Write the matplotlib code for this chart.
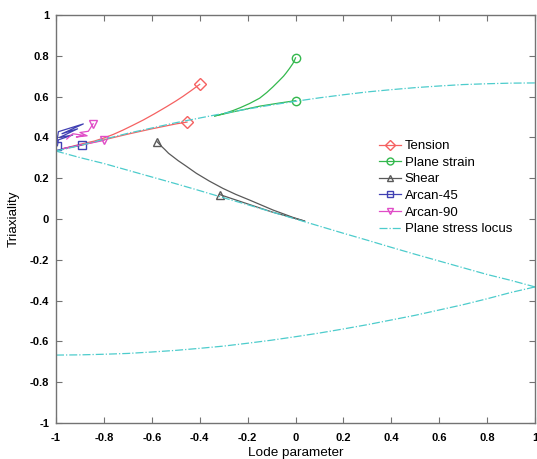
import numpy as np
import matplotlib
matplotlib.use('Agg')
import matplotlib.pyplot as plt

plt.rcParams['font.family'] = ['Liberation Sans', 'DejaVu Sans']

# plane stress locus, three branches
locus_x = [-1, -0.9, -0.8, -0.7, -0.6, -0.5, -0.4, -0.3, -0.2, -0.1, 0,
           0.1, 0.2, 0.3, 0.4, 0.5, 0.6, 0.7, 0.8, 0.9, 1]
locus_upper = [0.333, 0.360, 0.391, 0.420, 0.446, 0.472, 0.495, 0.518, 0.539, 0.559, 0.577,
               0.594, 0.609, 0.623, 0.634, 0.644, 0.652, 0.659, 0.663, 0.666, 0.667]
locus_mid = [0.333, 0.301, 0.272, 0.239, 0.206, 0.173, 0.139, 0.104, 0.070, 0.035, 0.0,
             -0.035, -0.070, -0.104, -0.139, -0.173, -0.206, -0.239, -0.272, -0.301, -0.333]
locus_lower = [-0.667, -0.666, -0.663, -0.659, -0.652, -0.644, -0.634, -0.623, -0.609, -0.594, -0.577,
               -0.559, -0.539, -0.518, -0.495, -0.472, -0.446, -0.420, -0.391, -0.360, -0.333]

# Tension
ten1_x = [-0.97, -0.93, -0.886, -0.84, -0.80, -0.76, -0.72, -0.68, -0.636, -0.59, -0.539, -0.50, -0.47, -0.435, -0.40]
ten1_y = [0.345, 0.357, 0.370, 0.382, 0.397, 0.415, 0.436, 0.459, 0.485, 0.515, 0.550, 0.578, 0.601, 0.630, 0.660]
ten2_x = [-0.97, -0.9, -0.8, -0.7, -0.6, -0.5, -0.453]
ten2_y = [0.345, 0.360, 0.388, 0.416, 0.442, 0.466, 0.475]

# Plane strain
ps1_x = [-0.3375, -0.30, -0.26, -0.23, -0.192, -0.15, -0.12, -0.094, -0.07, -0.05, -0.039, -0.025, -0.011, -0.004, 0.0]
ps1_y = [0.505, 0.516, 0.532, 0.546, 0.566, 0.592, 0.620, 0.648, 0.676, 0.700, 0.716, 0.738, 0.762, 0.778, 0.790]
ps2_x = [-0.3375, -0.25, -0.15, -0.07, 0.0]
ps2_y = [0.505, 0.528, 0.553, 0.568, 0.580]

# Shear
sh1_x = [0.0375, -0.011, -0.05, -0.094, -0.14, -0.192, -0.25, -0.303, -0.36, -0.414, -0.46, -0.49, -0.511, -0.53, -0.545, -0.562, -0.578]
sh1_y = [-0.010, 0.008, 0.025, 0.044, 0.067, 0.093, 0.121, 0.150, 0.186, 0.224, 0.262, 0.286, 0.305, 0.322, 0.340, 0.359, 0.379]
sh2_x = [0.0375, -0.1, -0.2, -0.317]
sh2_y = [-0.010, 0.035, 0.074, 0.120]

# Arcan-45
a45_1_x = [-1.0, -0.95, -0.893]
a45_1_y = [0.335, 0.350, 0.363]
a45_2_x = [-0.997, -0.99, -0.886, -0.975, -0.91, -0.985, -0.93, -0.99, -0.994]
a45_2_y = [0.375, 0.428, 0.466, 0.418, 0.442, 0.400, 0.412, 0.388, 0.359]

# Arcan-90
a90_1_x = [-0.97, -0.9, -0.8]
a90_1_y = [0.345, 0.362, 0.385]
a90_2_x = [-0.955, -0.93, -0.885, -0.915, -0.87, -0.90, -0.865, -0.845]
a90_2_y = [0.392, 0.418, 0.410, 0.402, 0.408, 0.424, 0.430, 0.467]

c_ten = (0.96, 0.38, 0.38)
c_ps = (0.2, 0.72, 0.3)
c_sh = (0.35, 0.35, 0.35)
c_a45 = (0.25, 0.25, 0.7)
c_a90 = (0.88, 0.3, 0.78)
c_loc = (0.3, 0.8, 0.8)

fig = plt.figure(figsize=(5.37, 4.59), dpi=100)
ax = fig.add_axes([56/537, 36/459, 479/537, 408/459])

lw = 0.9
ms = 6

def series(xs, ys, color, marker):
    ax.plot(xs, ys, color=color, lw=lw)
    ax.plot(xs[-1], ys[-1], marker=marker, color=color, ms=ms, mfc='none', lw=0)

series(ten1_x, ten1_y, c_ten, 'D')
series(ten2_x, ten2_y, c_ten, 'D')
series(ps1_x, ps1_y, c_ps, 'o')
series(ps2_x, ps2_y, c_ps, 'o')
series(sh1_x, sh1_y, c_sh, '^')
series(sh2_x, sh2_y, c_sh, '^')
series(a45_1_x, a45_1_y, c_a45, 's')
series(a45_2_x, a45_2_y, c_a45, 's')
series(a90_1_x, a90_1_y, c_a90, 'v')
series(a90_2_x, a90_2_y, c_a90, 'v')

for ly in (locus_upper, locus_mid, locus_lower):
    ax.plot(locus_x, ly, color=c_loc, lw=lw, ls='-.')

# legend proxies
handles = [
    plt.Line2D([], [], color=c_ten, lw=lw, marker='D', ms=5, mfc='none', label='Tension'),
    plt.Line2D([], [], color=c_ps, lw=lw, marker='o', ms=5, mfc='none', label='Plane strain'),
    plt.Line2D([], [], color=c_sh, lw=lw, marker='^', ms=5, mfc='none', label='Shear'),
    plt.Line2D([], [], color=c_a45, lw=lw, marker='s', ms=5, mfc='none', label='Arcan-45'),
    plt.Line2D([], [], color=c_a90, lw=lw, marker='v', ms=5, mfc='none', label='Arcan-90'),
    plt.Line2D([], [], color=c_loc, lw=lw, ls='-.', label='Plane stress locus'),
]
ax.legend(handles=handles, loc='upper left', bbox_to_anchor=((379 - 56) / 479, (423 - 140) / 408),
          frameon=False, fontsize=9.5, borderpad=0, borderaxespad=0, handlelength=1.7,
          handletextpad=0.25, labelspacing=0.33)

ax.set_xlim(-1, 1)
ax.set_ylim(-1, 1)
ticks = [-1, -0.8, -0.6, -0.4, -0.2, 0, 0.2, 0.4, 0.6, 0.8, 1]
labels = ['-1', '-0.8', '-0.6', '-0.4', '-0.2', '0', '0.2', '0.4', '0.6', '0.8', '1']
ax.set_xticks(ticks)
ax.set_xticklabels(labels)
ax.set_yticks(ticks)
ax.set_yticklabels(labels)
ax.tick_params(direction='in', length=4, width=0.8, color='0.45', labelsize=8,
               top=True, right=True)
ax.tick_params(axis='x', pad=7)
ax.tick_params(axis='y', pad=5)
for t in ax.get_xticklabels() + ax.get_yticklabels():
    t.set_fontweight('bold')
for s in ax.spines.values():
    s.set_color('0.45')
    s.set_linewidth(1.0)
ax.set_xlabel('Lode parameter', fontsize=9.7, labelpad=3)
ax.set_ylabel('Triaxiality', fontsize=9.7, labelpad=7)

fig.savefig('out.png', dpi=100)
